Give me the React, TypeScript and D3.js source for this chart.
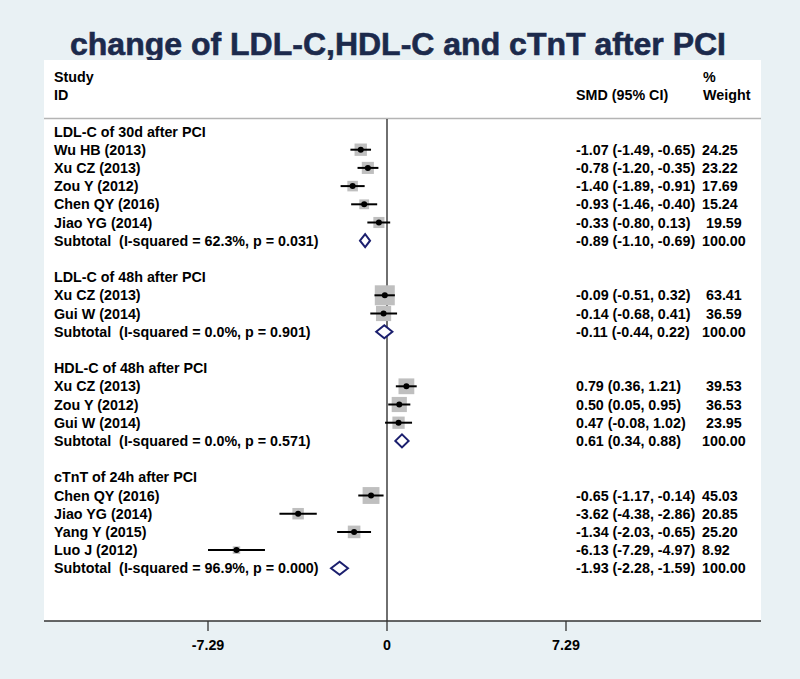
import React from "react";
import * as d3 from "d3";

const groupTitles = [
  "LDL-C of 30d after PCI",
  "LDL-C of 48h after PCI",
  "HDL-C of 48h after PCI",
  "cTnT of 24h after PCI",
];
const studyNames = [
  ["Wu HB (2013)", "Xu CZ (2013)", "Zou Y (2012)", "Chen QY (2016)", "Jiao YG (2014)"],
  ["Xu CZ (2013)", "Gui W (2014)"],
  ["Xu CZ (2013)", "Zou Y (2012)", "Gui W (2014)"],
  ["Chen QY (2016)", "Jiao YG (2014)", "Yang Y (2015)", "Luo J (2012)"],
];
const smd = [
  [-1.07, -0.78, -1.4, -0.93, -0.33],
  [-0.09, -0.14],
  [0.79, 0.5, 0.47],
  [-0.65, -3.62, -1.34, -6.13],
];
const ciLow = [
  [-1.49, -1.2, -1.89, -1.46, -0.8],
  [-0.51, -0.68],
  [0.36, 0.05, -0.08],
  [-1.17, -4.38, -2.03, -7.29],
];
const ciHigh = [
  [-0.65, -0.35, -0.91, -0.4, 0.13],
  [0.32, 0.41],
  [1.21, 0.95, 1.02],
  [-0.14, -2.86, -0.65, -4.97],
];
const weights = [
  [24.25, 23.22, 17.69, 15.24, 19.59],
  [63.41, 36.59],
  [39.53, 36.53, 23.95],
  [45.03, 20.85, 25.2, 8.92],
];
const subtotalLabels = [
  "Subtotal  (I-squared = 62.3%, p = 0.031)",
  "Subtotal  (I-squared = 0.0%, p = 0.901)",
  "Subtotal  (I-squared = 0.0%, p = 0.571)",
  "Subtotal  (I-squared = 96.9%, p = 0.000)",
];
const subSmd = [-0.89, -0.11, 0.61, -1.93];
const subLow = [-1.1, -0.44, 0.34, -2.28];
const subHigh = [-0.69, 0.22, 0.88, -1.59];
const xTicks = [-7.29, 0, 7.29];

type Row =
  | { kind: "header"; label: string }
  | { kind: "study"; label: string; est: number; lo: number; hi: number; w: number }
  | { kind: "subtotal"; label: string; est: number; lo: number; hi: number; w: number }
  | { kind: "blank" };

const rows: Row[] = [];
groupTitles.forEach((t, g) => {
  rows.push({ kind: "header", label: t });
  studyNames[g].forEach((n, i) =>
    rows.push({ kind: "study", label: n, est: smd[g][i], lo: ciLow[g][i], hi: ciHigh[g][i], w: weights[g][i] })
  );
  rows.push({ kind: "subtotal", label: subtotalLabels[g], est: subSmd[g], lo: subLow[g], hi: subHigh[g], w: 100 });
  if (g < groupTitles.length - 1) rows.push({ kind: "blank" });
});

const W = 800;
const H = 679;
const panel = { left: 44, right: 761, top: 60, bottom: 621 };
const FONT = "'Liberation Sans', Arial, Helvetica, sans-serif";
const NAVY = "#1b1f6e";

const f2 = (v: number) => v.toFixed(2);

export default function App() {
  const x = d3.scaleLinear().domain([-7.29, 7.29]).range([208, 566]);
  const y = d3.scaleLinear().domain([0, rows.length - 1]).range([131.5, 568.3]);
  const sizeScale = d3.scaleSqrt().domain([0, 100]).range([0, 25.1]);
  const fs = 14.3;

  return (
    <svg
      width={W}
      height={H}
      style={{ position: "absolute", left: 0, top: 0, background: "#e9f1f4" }}
      fontFamily={FONT}
      fontWeight="bold"
    >
      <rect x={0} y={0} width={W} height={H} fill="#e9f1f4" />
      <text x={398} y={55} textAnchor="middle" fontSize={32} fill="#1c2a4c" stroke="#1c2a4c" strokeWidth={0.6}>
        change of LDL-C,HDL-C and cTnT after PCI
      </text>
      <rect
        x={panel.left}
        y={panel.top}
        width={panel.right - panel.left}
        height={panel.bottom - panel.top}
        fill="#ffffff"
      />
      {/* header */}
      <g fontSize={fs} fill="#000">
        <text x={54} y={82}>Study</text>
        <text x={54} y={100}>ID</text>
        <text x={576} y={100}>SMD (95% CI)</text>
        <text x={703} y={82}>%</text>
        <text x={703} y={100}>Weight</text>
      </g>
      <line x1={panel.left} x2={panel.right} y1={118.5} y2={118.5} stroke="#b4b4b4" strokeWidth={1.5} />
      {/* zero line */}
      <line x1={x(0)} x2={x(0)} y1={119} y2={panel.bottom} stroke="#222" strokeWidth={1.3} />
      {/* rows */}
      {rows.map((r, i) => {
        if (r.kind === "blank") return null;
        const yc = y(i);
        const base = yc + 5;
        if (r.kind === "header") {
          return (
            <text key={i} x={54} y={base} fontSize={fs} fill="#000">
              {r.label}
            </text>
          );
        }
        const ciText = `${f2(r.est)} (${f2(r.lo)}, ${f2(r.hi)})`;
        const wx = 702 + (r.hi >= 0 && r.w < 100 ? 4 : 0);
        const common = (
          <>
            <text x={54} y={base} fontSize={fs} fill="#000" style={{ whiteSpace: "pre" }} xmlSpace="preserve">
              {r.label}
            </text>
            <text x={576} y={base} fontSize={fs} fill="#000">
              {ciText}
            </text>
            <text x={wx} y={base} fontSize={fs} fill="#000">
              {f2(r.w)}
            </text>
          </>
        );
        if (r.kind === "study") {
          const s = sizeScale(r.w);
          return (
            <g key={i}>
              {common}
              <rect x={x(r.est) - s / 2} y={yc - s / 2} width={s} height={s} fill="#bfbfbf" />
              <line x1={x(r.lo)} x2={x(r.hi)} y1={yc} y2={yc} stroke="#000" strokeWidth={2} />
              <circle cx={x(r.est)} cy={yc} r={3} fill="#000" />
            </g>
          );
        }
        const pts: [number, number][] = [
          [x(r.lo), yc],
          [x(r.est), yc - 6.5],
          [x(r.hi), yc],
          [x(r.est), yc + 6.5],
        ];
        return (
          <g key={i}>
            {common}
            <path
              d={(d3.line()(pts) as string) + "Z"}
              fill="#fff"
              stroke={NAVY}
              strokeWidth={2}
              strokeLinejoin="miter"
            />
          </g>
        );
      })}
      {/* axis */}
      <line x1={panel.left} x2={panel.right} y1={panel.bottom} y2={panel.bottom} stroke="#333" strokeWidth={1.6} />
      {xTicks.map((t) => (
        <g key={t}>
          <line x1={x(t)} x2={x(t)} y1={panel.bottom} y2={panel.bottom + 10} stroke="#333" strokeWidth={1.3} />
          <text x={x(t)} y={650} textAnchor="middle" fontSize={fs} fill="#000">
            {t === 0 ? "0" : f2(t)}
          </text>
        </g>
      ))}
    </svg>
  );
}
